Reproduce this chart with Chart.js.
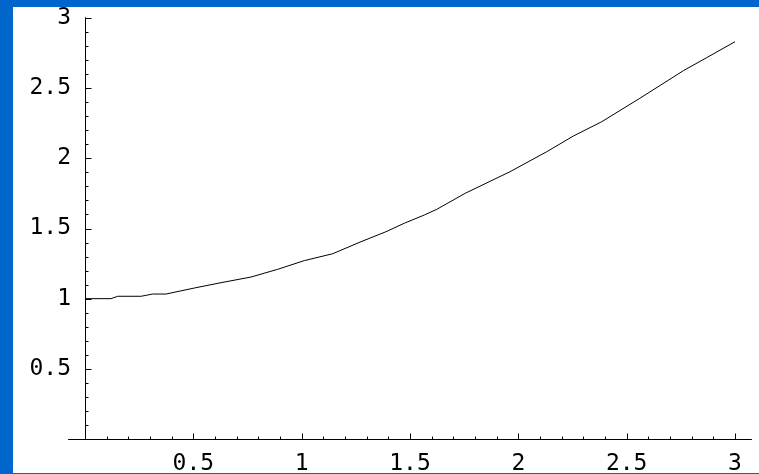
<!DOCTYPE html>
<html>
<head>
<meta charset="utf-8">
<script src="https://cdn.jsdelivr.net/npm/chart.js@4.4.1/dist/chart.umd.min.js"></script>
<style>
  html, body { margin: 0; padding: 0; }
  body { width: 759px; height: 474px; background: #0066cc; position: relative; overflow: hidden; }
  #plot { position: absolute; left: 13px; top: 7px; background: #fff; }
</style>
</head>
<body>
<canvas id="plot" width="750" height="466"></canvas>
<script>
// curve
const xVals = [0, 0.12, 0.151, 0.259, 0.312, 0.374, 0.505, 0.628, 0.766, 0.889, 1.012, 1.143, 1.274,
  1.389, 1.473, 1.566, 1.624, 1.755, 1.962, 2.131, 2.254, 2.385, 2.561, 2.762, 2.869, 3.0];
const yVals = [1.0, 1.0, 1.017, 1.017, 1.033, 1.033, 1.076, 1.114, 1.154, 1.209, 1.271, 1.32, 1.406,
  1.477, 1.537, 1.596, 1.637, 1.751, 1.905, 2.047, 2.159, 2.261, 2.428, 2.625, 2.717, 2.831];

// tick labels
const xTicks = [0.5, 1, 1.5, 2, 2.5, 3];
const yTicks = [0.5, 1, 1.5, 2, 2.5, 3];

const tickFont = { family: "DejaVu Sans Mono", size: 23 };

// Mathematica style axes: lines through origin, ticks pointing inward
const axesPlugin = {
  id: "axes",
  afterDraw(chart) {
    const c = chart.ctx;
    const xs = chart.scales.x, ys = chart.scales.y;
    const x0 = Math.round(xs.getPixelForValue(0)) + 0.5;
    const y0 = Math.round(ys.getPixelForValue(0)) + 0.5;
    c.save();
    c.strokeStyle = "#000";
    c.lineWidth = 1;
    c.beginPath();
    c.moveTo(xs.getPixelForValue(-0.078), y0);
    c.lineTo(xs.getPixelForValue(3.078), y0);
    c.moveTo(x0, y0);
    c.lineTo(x0, ys.getPixelForValue(3.005));
    for (let i = 1; i <= 30; i++) {
      const len = i % 5 === 0 ? 6 : 3;
      const px = Math.round(xs.getPixelForValue(i / 10)) + 0.5;
      c.moveTo(px, y0);
      c.lineTo(px, y0 - len);
      const py = Math.round(ys.getPixelForValue(i / 10)) + 0.5;
      c.moveTo(x0, py);
      c.lineTo(x0 + len, py);
    }
    c.stroke();
    c.restore();
  }
};

function noPad(s) {
  s.paddingTop = 0;
  s.paddingBottom = 0;
  s.paddingLeft = 0;
  s.paddingRight = 0;
}

new Chart(document.getElementById("plot"), {
  type: "line",
  data: {
    datasets: [{
      data: xVals.map((x, i) => ({ x: x, y: yVals[i] })),
      borderColor: "#000",
      borderWidth: 1,
      pointRadius: 0,
      tension: 0,
      fill: false
    }]
  },
  options: {
    responsive: false,
    animation: false,
    devicePixelRatio: 1,
    layout: { padding: { top: 11, right: 28, left: 0, bottom: 0 } },
    plugins: { legend: { display: false }, tooltip: { enabled: false } },
    scales: {
      x: {
        type: "linear",
        min: 0,
        max: 3,
        grid: { display: false, drawTicks: false },
        border: { display: false },
        afterBuildTicks: s => { s.ticks = xTicks.map(v => ({ value: v })); },
        afterFit: s => { s.height = 34; noPad(s); },
        ticks: {
          color: "#000",
          font: tickFont,
          padding: 11,
          autoSkip: false,
          maxRotation: 0,
          callback: v => String(v)
        }
      },
      y: {
        type: "linear",
        min: 0,
        max: 3,
        grid: { display: false, drawTicks: false },
        border: { display: false },
        afterBuildTicks: s => { s.ticks = yTicks.map(v => ({ value: v })); },
        afterFit: s => { s.width = 72; noPad(s); },
        ticks: {
          color: "#000",
          font: tickFont,
          padding: 14,
          autoSkip: false,
          callback: v => String(v)
        }
      }
    }
  },
  plugins: [axesPlugin]
});
</script>
</body>
</html>
